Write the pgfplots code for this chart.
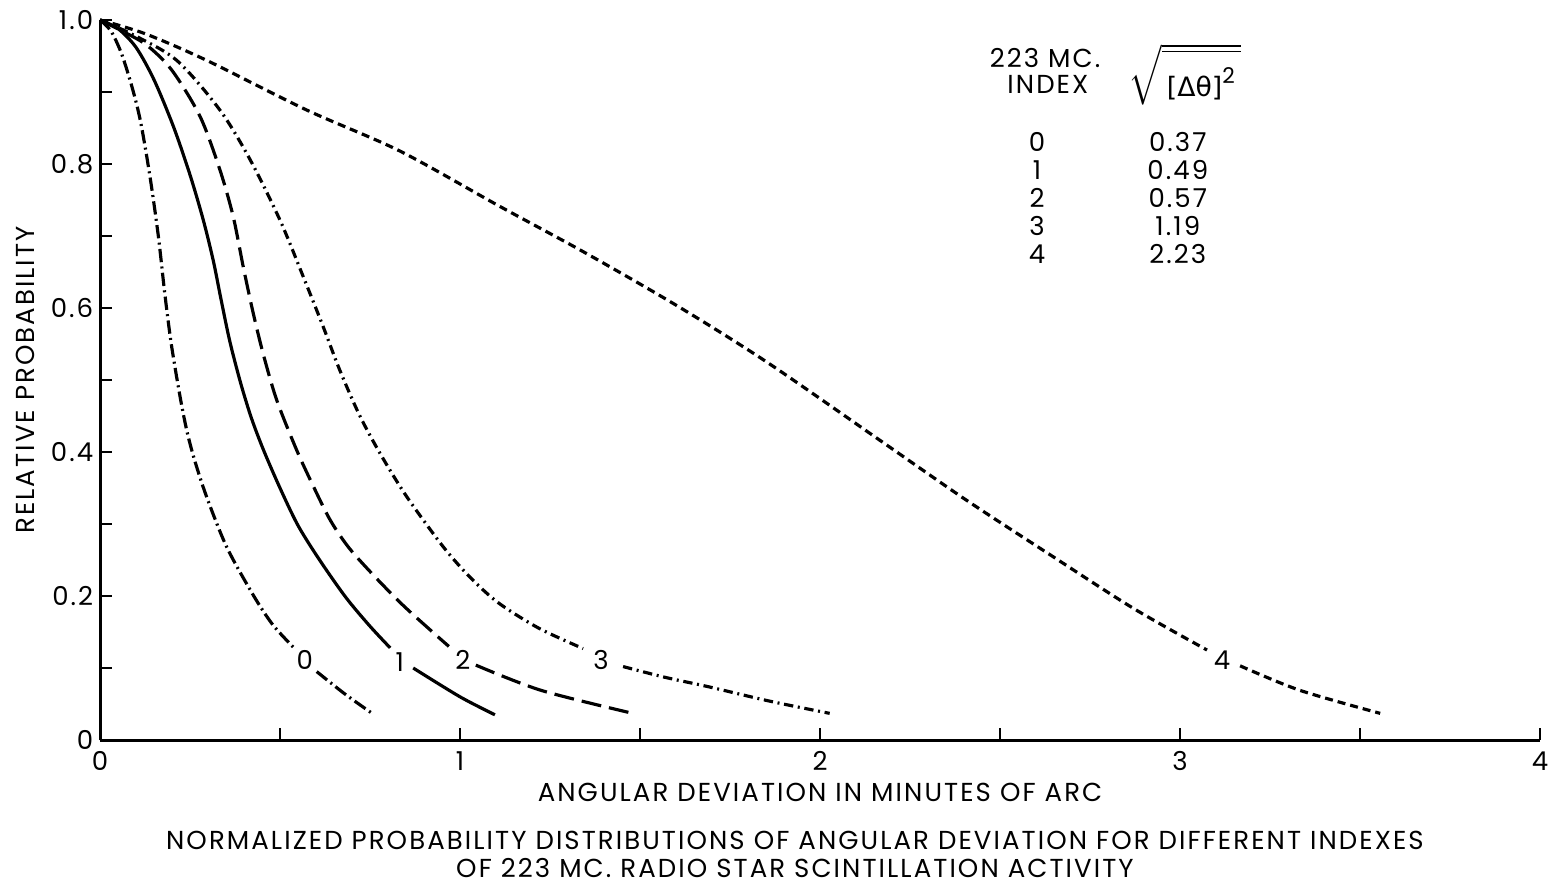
\documentclass[border=0pt]{standalone}
\usepackage{fontspec}
\setmainfont{Poppins}[LetterSpace=8]
\newfontfamily\greekfont{DejaVu Sans}
\usepackage{pgfplots}
\pgfplotsset{compat=1.18}

\begin{document}
\begin{tikzpicture}[font=\fontsize{7.8}{8.4}\selectfont]
\path[use as bounding box] (-30pt,-42.9pt) rectangle (435.6pt,222pt);
\begin{axis}[
    scale only axis, width=432pt, height=216pt,
    xmin=0, xmax=4, ymin=0, ymax=1,
    axis x line=bottom, axis y line=left,
    axis line style={line width=0.9pt, -},
    xtick={0,1,2,3,4}, minor xtick={0.5,1.5,2.5,3.5},
    xticklabels={0,1,2,3,4},
    ytick={0,0.2,0.4,0.6,0.8,1}, minor ytick={0.1,0.3,0.5,0.7,0.9},
    yticklabels={0,0.2,0.4,0.6,0.8,1.0},
    yticklabel style={xshift=1.5pt},
    /pgf/number format/assume math mode=true,
    tick align=inside, major tick length=3.6pt, minor tick length=3.6pt,
    tick style={line width=0.45pt, black},
    every axis x label/.style={at={(rel axis cs:0.5,0)}, anchor=center, yshift=-15.6pt},
    every axis y label/.style={at={(rel axis cs:0,0.5)}, anchor=center, rotate=90, yshift=22.5pt},
    every axis title/.style={at={(rel axis cs:0.4826,0)}, anchor=center, yshift=-34.2pt, align=center},
    xlabel={ANGULAR DEVIATION IN MINUTES OF ARC},
    ylabel={RELATIVE PROBABILITY},
    title={NORMALIZED PROBABILITY DISTRIBUTIONS OF ANGULAR DEVIATION FOR DIFFERENT INDEXES\\OF 223 MC. RADIO STAR SCINTILLATION ACTIVITY},
    clip=false,
]
% index 0 : dash dot
\addplot[line width=0.95pt, smooth, dash pattern=on 4pt off 1.3pt on 0.6pt off 1.3pt] coordinates {
(0,1) (0.03,0.985) (0.06,0.953) (0.09,0.905) (0.113,0.858) (0.139,0.782) (0.162,0.7) (0.18,0.62) (0.198,0.55) (0.222,0.478) (0.241,0.43) (0.262,0.39) (0.296,0.338) (0.352,0.268) (0.426,0.201) (0.48,0.16) (0.537,0.129)};
\addplot[line width=0.95pt, smooth, dash pattern=on 4pt off 1.3pt on 0.6pt off 1.3pt] coordinates {
(0.602,0.095) (0.68,0.064) (0.756,0.037)};
% index 1 : solid
\addplot[line width=0.95pt, smooth] coordinates {
(0,1) (0.05,0.988) (0.1,0.962) (0.15,0.917) (0.204,0.852) (0.25,0.785) (0.287,0.722) (0.315,0.665) (0.335,0.615) (0.36,0.555) (0.39,0.497) (0.42,0.448) (0.454,0.403) (0.5,0.35) (0.55,0.298) (0.61,0.25) (0.683,0.198) (0.75,0.158) (0.806,0.128)};
\addplot[line width=0.95pt, smooth] coordinates {
(0.87,0.1) (1.0,0.06) (1.097,0.035)};
% index 2 : long dashes
\addplot[line width=0.95pt, smooth, dash pattern=on 6pt off 2.4pt] coordinates {
(0,1) (0.06,0.985) (0.13,0.965) (0.2,0.93) (0.278,0.866) (0.333,0.792) (0.37,0.727) (0.398,0.657) (0.426,0.592) (0.454,0.535) (0.491,0.472) (0.546,0.403) (0.593,0.352) (0.64,0.305) (0.693,0.266) (0.767,0.225) (0.842,0.187) (0.917,0.153) (0.969,0.13)};
\addplot[line width=0.95pt, smooth, dash pattern=on 6pt off 2.4pt] coordinates {
(1.044,0.104) (1.225,0.069) (1.48,0.037)};
% index 3 : short dash dot
\addplot[line width=0.95pt, smooth, dash pattern=on 2.8pt off 1.4pt on 0.6pt off 1.4pt] coordinates {
(0,1) (0.09,0.98) (0.213,0.944) (0.333,0.875) (0.417,0.806) (0.5,0.722) (0.565,0.643) (0.62,0.574) (0.665,0.515) (0.72,0.452) (0.778,0.398) (0.852,0.338) (0.954,0.268) (1.03,0.225) (1.108,0.19) (1.22,0.155) (1.342,0.127)};
\addplot[line width=0.95pt, smooth, dash pattern=on 2.8pt off 1.4pt on 0.6pt off 1.4pt] coordinates {
(1.453,0.102) (1.57,0.087) (1.69,0.074) (1.86,0.054) (2.027,0.037)};
% index 4 : short dashes
\addplot[line width=0.95pt, smooth, dash pattern=on 2.4pt off 1.5pt] coordinates {
(0,1) (0.125,0.981) (0.296,0.944) (0.574,0.875) (0.833,0.818) (1.111,0.741) (1.343,0.678) (1.6,0.604) (1.852,0.525) (2.17,0.415) (2.407,0.333) (2.64,0.257) (2.87,0.183) (3.075,0.125)};
\addplot[line width=0.95pt, smooth, dash pattern=on 2.4pt off 1.5pt] coordinates {
(3.167,0.103) (3.333,0.069) (3.556,0.037)};
% curve labels
\node at (axis cs:0.569,0.111) {0};
\node at (axis cs:0.833,0.108) {1};
\node at (axis cs:1.008,0.111) {2};
\node at (axis cs:1.392,0.111) {3};
\node at (axis cs:3.117,0.111) {4};
% key table
\node at (axis cs:2.625,0.947) {223 MC.};
\node at (axis cs:2.633,0.910) {INDEX};
\node at (axis cs:3.014,0.924) {$\sqrt{\overline{\vrule height 12pt depth 2.5pt width 0pt\,\hbox{\greekfont\fontsize{8}{9}\selectfont[Δθ]}^{\hbox{\fontsize{6.5}{7}\selectfont 2}}\,}}$};
\node at (axis cs:2.603,0.831) {0};
\node at (axis cs:2.603,0.792) {1};
\node at (axis cs:2.603,0.753) {2};
\node at (axis cs:2.603,0.714) {3};
\node at (axis cs:2.603,0.675) {4};
\node at (axis cs:2.994,0.831) {0.37};
\node at (axis cs:2.994,0.792) {0.49};
\node at (axis cs:2.994,0.753) {0.57};
\node at (axis cs:2.994,0.714) {1.19};
\node at (axis cs:2.994,0.675) {2.23};
\end{axis}
\end{tikzpicture}
\end{document}
